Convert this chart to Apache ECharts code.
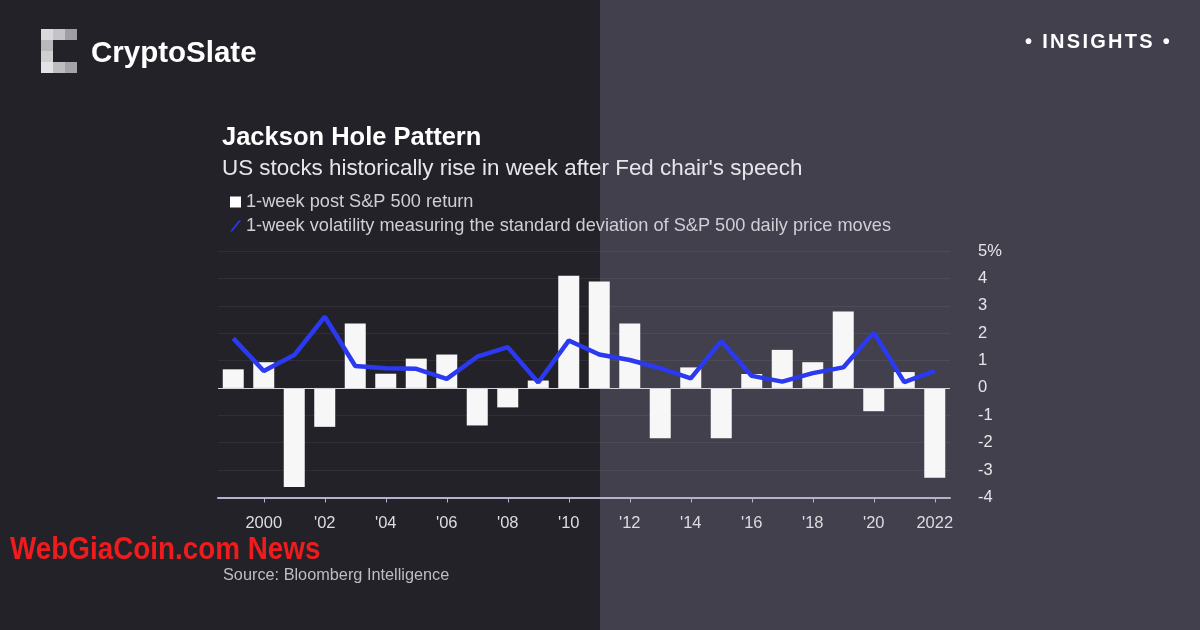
<!DOCTYPE html>
<html><head><meta charset="utf-8">
<script src="https://cdn.jsdelivr.net/npm/echarts@6/dist/echarts.min.js"></script>
<style>html,body{margin:0;padding:0;background:#232229;}#c{width:1200px;height:630px;}</style>
</head><body><div id="c"></div>
<script>
const years = ['1999','2000','2001','2002','2003','2004','2005','2006','2007','2008','2009','2010','2011','2012','2013','2014','2015','2016','2017','2018','2019','2020','2021','2022'];
const returns = [0.68,0.94,-3.62,-1.42,2.35,0.52,1.07,1.22,-1.37,-0.71,0.27,4.10,3.89,2.35,-1.84,0.75,-1.84,0.51,1.39,0.94,2.79,-0.85,0.58,-3.28];
const volatility = [1.81,0.62,1.20,2.60,0.80,0.72,0.70,0.33,1.14,1.49,0.20,1.73,1.22,1.02,0.72,0.35,1.71,0.44,0.23,0.54,0.75,2.02,0.21,0.62];
const yTicks = {min:-4, max:5, step:1};
const nameBar = '1-week post S&P 500 return';
const nameLine = '1-week volatility measuring the standard deviation of S&P 500 daily price moves';

const chart = echarts.init(document.getElementById('c'), null, {renderer:'canvas'});
const FONT = '"Liberation Sans", Arial, sans-serif';
const showEven = (i, v) => parseInt(v, 10) % 2 === 0;

const logoCells = [
  [41,29,'#d9d9dc'],[53,29,'#c4c4c8'],[65,29,'#9e9ea3'],
  [41,40,'#b9b9bd'],
  [41,51,'#cfcfd2'],
  [41,62,'#e3e3e6'],[53,62,'#bdbdc1'],[65,62,'#a3a3a8']
];

// spaced-out "• INSIGHTS •" label, one glyph per text element
const insFont = 'bold 20px ' + FONT;
const mctx = document.createElement('canvas').getContext('2d');
mctx.font = insFont;
const insChars = Array.from('• INSIGHTS •');
const insSpacing = 2.3;
let insX = 1025;
const insGraphics = [];
insChars.forEach(ch => {
  insGraphics.push({type:'text', left:insX, top:32, style:{text:ch, fill:'#ffffff', font:insFont}});
  insX += mctx.measureText(ch).width + insSpacing;
});

chart.setOption({
  backgroundColor: 'transparent',
  animation: false,
  graphic: [
    {type:'rect', z:-10, shape:{x:0,y:0,width:600,height:630}, style:{fill:'#232229'}},
    {type:'rect', z:-10, shape:{x:600,y:0,width:600,height:630}, style:{fill:'#41404c'}},
    ...logoCells.map(c => ({type:'rect', shape:{x:c[0],y:c[1],width:12,height:11}, style:{fill:c[2]}})),
    {type:'text', left:91, top:39, style:{text:'CryptoSlate', fill:'#ffffff', font:'bold 29.5px ' + FONT}},
    ...insGraphics,
    {type:'text', left:222, top:125, style:{text:'Jackson Hole Pattern', fill:'#ffffff', font:'bold 25.5px ' + FONT}},
    {type:'text', left:222, top:158, style:{text:"US stocks historically rise in week after Fed chair's speech", fill:'#e6e6ea', font:'22.4px ' + FONT}},
    {type:'text', x:10, y:534, scaleX:0.87, style:{text:'WebGiaCoin.com News', fill:'#ee1c1c', font:'bold 32px ' + FONT}},
    {type:'text', left:223, top:568, style:{text:'Source: Bloomberg Intelligence', fill:'#bdbdc4', font:'16.3px ' + FONT}}
  ],
  legend: {
    orient:'vertical', left:225, top:188, itemGap:6, itemWidth:11, itemHeight:11,
    textStyle:{color:'#cfcfd6', fontSize:18.2, fontFamily:FONT},
    data:[
      {name:nameBar, icon:'rect', itemStyle:{color:'#ffffff'}},
      {name:nameLine, icon:'path://M0,10 L8,0 L10,0 L2,10 Z', itemStyle:{color:'#2b3af0'}}
    ]
  },
  grid: {left:218, right:250, top:251, bottom:132.5},
  xAxis: {
    type:'category', data:years, boundaryGap:true,
    axisLine:{onZero:false, lineStyle:{color:'#b4b2cf', width:2}},
    axisTick:{show:true, alignWithLabel:true, interval:showEven, length:5, lineStyle:{color:'#b4b2cf'}},
    axisLabel:{interval:showEven, color:'#dcdce2', fontSize:16.5, fontFamily:FONT, margin:17,
      formatter:v => (v==='2000'||v==='2022') ? v : "'" + v.slice(2)}
  },
  yAxis: {
    type:'value', position:'right', min:yTicks.min, max:yTicks.max, interval:yTicks.step,
    axisLine:{show:false}, axisTick:{show:false},
    splitLine:{show:true, lineStyle:{color:'rgba(255,255,255,0.06)', width:1}},
    axisLabel:{color:'#e6e6ea', fontSize:16.5, fontFamily:FONT, margin:28, align:'left',
      formatter:v => v===yTicks.max ? v + '%' : String(v)}
  },
  series: [
    {name:nameBar, type:'bar', data:returns, barWidth:21, itemStyle:{color:'#f7f7f7'}, z:2,
      markLine:{silent:true, symbol:'none', label:{show:false}, lineStyle:{color:'#d4d4da', width:1, type:'solid'}, data:[{yAxis:0}]}},
    {name:nameLine, type:'line', data:volatility, showSymbol:false, symbol:'none', z:3,
      lineStyle:{color:'#2b3af0', width:4.5}, itemStyle:{color:'#2b3af0'}}
  ]
});
</script></body></html>
